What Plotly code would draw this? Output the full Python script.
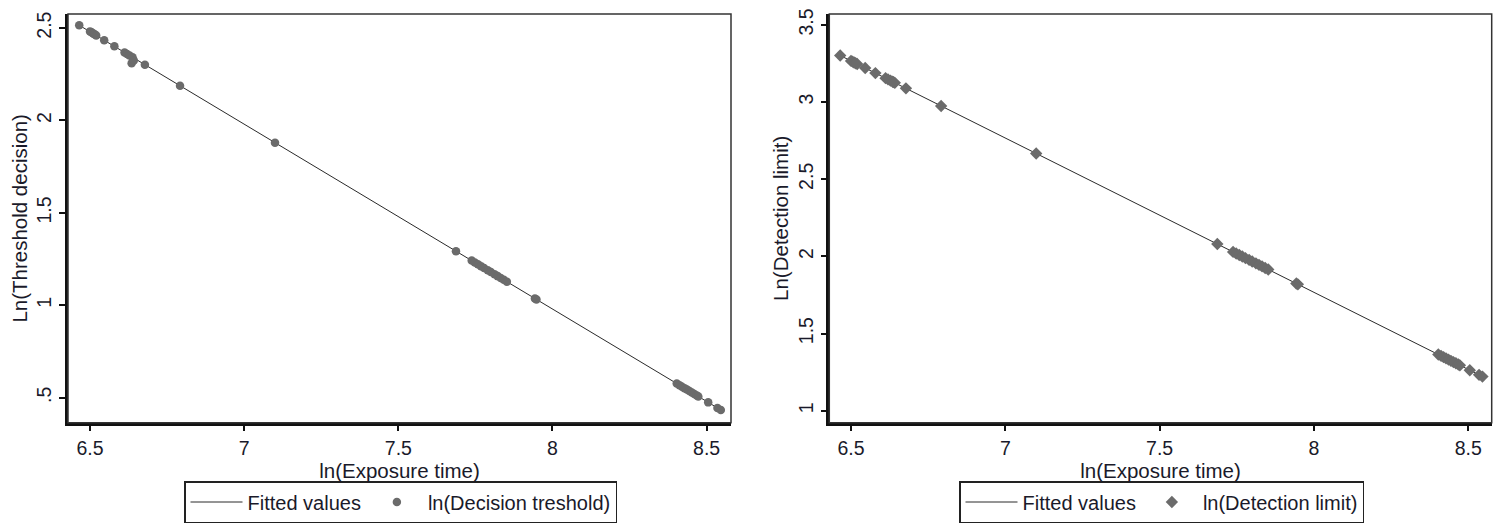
import plotly.graph_objects as go

# ---- data ----
exposure_ln = [6.465, 6.500, 6.505, 6.510, 6.515, 6.520, 6.546, 6.579, 6.612, 6.620,
               6.628, 6.635, 6.638, 6.642, 6.678, 6.792, 7.100, 7.687, 7.738, 7.748,
               7.758, 7.768, 7.778, 7.790, 7.800, 7.812, 7.822, 7.832, 7.842, 7.852,
               7.943, 7.948, 8.403, 8.412, 8.420, 8.428, 8.436, 8.444, 8.452, 8.460,
               8.468, 8.473, 8.505, 8.535, 8.546]

decision_ln = [2.515, 2.482, 2.477, 2.470, 2.466, 2.460, 2.434, 2.401, 2.368, 2.360,
               2.352, 2.310, 2.342, 2.325, 2.302, 2.188, 1.880, 1.293, 1.242, 1.232,
               1.222, 1.212, 1.202, 1.190, 1.180, 1.168, 1.158, 1.148, 1.138, 1.128,
               1.037, 1.032, 0.577, 0.568, 0.560, 0.552, 0.544, 0.536, 0.528, 0.520,
               0.512, 0.507, 0.475, 0.445, 0.434]

detection_ln = [3.302, 3.267, 3.262, 3.257, 3.252, 3.247, 3.221, 3.188, 3.155, 3.147,
                3.139, 3.132, 3.129, 3.125, 3.089, 2.975, 2.667, 2.080, 2.029, 2.019,
                2.009, 1.999, 1.989, 1.977, 1.967, 1.955, 1.945, 1.935, 1.925, 1.915,
                1.824, 1.819, 1.364, 1.355, 1.347, 1.339, 1.331, 1.323, 1.315, 1.307,
                1.299, 1.294, 1.262, 1.232, 1.221]

fit_x = [6.465, 8.546]
fit_decision = [2.515, 0.434]
fit_detection = [3.302, 1.221]

x_tickvals = [6.5, 7, 7.5, 8, 8.5]
x_ticktext = ["6.5", "7", "7.5", "8", "8.5"]
yl_tickvals = [0.5, 1, 1.5, 2, 2.5]
yl_ticktext = [".5", "1", "1.5", "2", "2.5"]
yr_tickvals = [1, 1.5, 2, 2.5, 3, 3.5]
yr_ticktext = ["1", "1.5", "2", "2.5", "3", "3.5"]

# ---- styling ----
W, H = 1505, 531
FONT = "Liberation Sans, Arial, sans-serif"
TXT = "#1a1a2a"
PT = "#6b6b6b"
LINE = "#2a2a2a"

fig = go.Figure()

fig.add_trace(go.Scatter(x=fit_x, y=fit_decision, mode="lines", name="Fitted values",
                         line=dict(color=LINE, width=1), xaxis="x", yaxis="y",
                         legend="legend"))
fig.add_trace(go.Scatter(x=exposure_ln, y=decision_ln, mode="markers",
                         name="ln(Decision treshold)",
                         marker=dict(color=PT, size=8.5, symbol="circle"),
                         xaxis="x", yaxis="y", legend="legend"))
fig.add_trace(go.Scatter(x=fit_x, y=fit_detection, mode="lines", name="Fitted values",
                         line=dict(color=LINE, width=1), xaxis="x2", yaxis="y2",
                         legend="legend2"))
fig.add_trace(go.Scatter(x=exposure_ln, y=detection_ln, mode="markers",
                         name="ln(Detection limit)",
                         marker=dict(color=PT, size=9.5, symbol="diamond"),
                         xaxis="x2", yaxis="y2", legend="legend2"))

ydom = [(H - 422.7) / H, (H - 14) / H]
axis_common = dict(showline=True, linewidth=2.5, linecolor="#111", mirror=False,
                   ticks="outside", ticklen=6, tickwidth=1.5, tickcolor="#111",
                   showgrid=False, zeroline=False, automargin=False,
                   tickfont=dict(family=FONT, size=19.5, color=TXT))

title_font = dict(family=FONT, size=20.5, color=TXT)
legend_common = dict(y=1 - 481 / H, xanchor="left", yanchor="top",
                     orientation="h", bgcolor="white", bordercolor="#222",
                     borderwidth=1.5, itemwidth=52, tracegroupgap=0,
                     font=dict(family=FONT, size=20, color=TXT))

fig.update_layout(
    width=W, height=H,
    margin=dict(l=0, r=0, t=0, b=0),
    paper_bgcolor="white", plot_bgcolor="white",
    font=dict(family=FONT, size=19, color=TXT),
    xaxis=dict(domain=[68 / W, 731 / W], range=[6.4286, 8.579],
               tickvals=x_tickvals, ticktext=x_ticktext, anchor="y",
               title=dict(text="ln(Exposure time)", standoff=0, font=title_font),
               **axis_common),
    yaxis=dict(domain=ydom, range=[0.365, 2.576], tickvals=yl_tickvals,
               ticktext=yl_ticktext, tickangle=-90, anchor="x",
               title=dict(text="Ln(Threshold decision)", standoff=1, font=title_font),
               **axis_common),
    xaxis2=dict(domain=[829.3 / W, 1491.7 / W], range=[6.4297, 8.576],
                tickvals=x_tickvals, ticktext=x_ticktext, anchor="y2",
                title=dict(text="ln(Exposure time)", standoff=0, font=title_font),
                **axis_common),
    yaxis2=dict(domain=ydom, range=[0.922, 3.571], tickvals=yr_tickvals,
                ticktext=yr_ticktext, tickangle=-90, anchor="x2",
                title=dict(text="Ln(Detection limit)", standoff=1, font=title_font),
                **axis_common),
    legend=dict(x=184 / W, **legend_common),
    legend2=dict(x=959 / W, **legend_common),
    shapes=[
        dict(type="rect", xref="x domain", yref="y domain", x0=0, x1=1, y0=0, y1=1,
             line=dict(color="#333", width=1.5), layer="above"),
        dict(type="rect", xref="x2 domain", yref="y2 domain", x0=0, x1=1, y0=0, y1=1,
             line=dict(color="#333", width=1.5), layer="above"),
    ],
)

fig.write_html("out.html")
